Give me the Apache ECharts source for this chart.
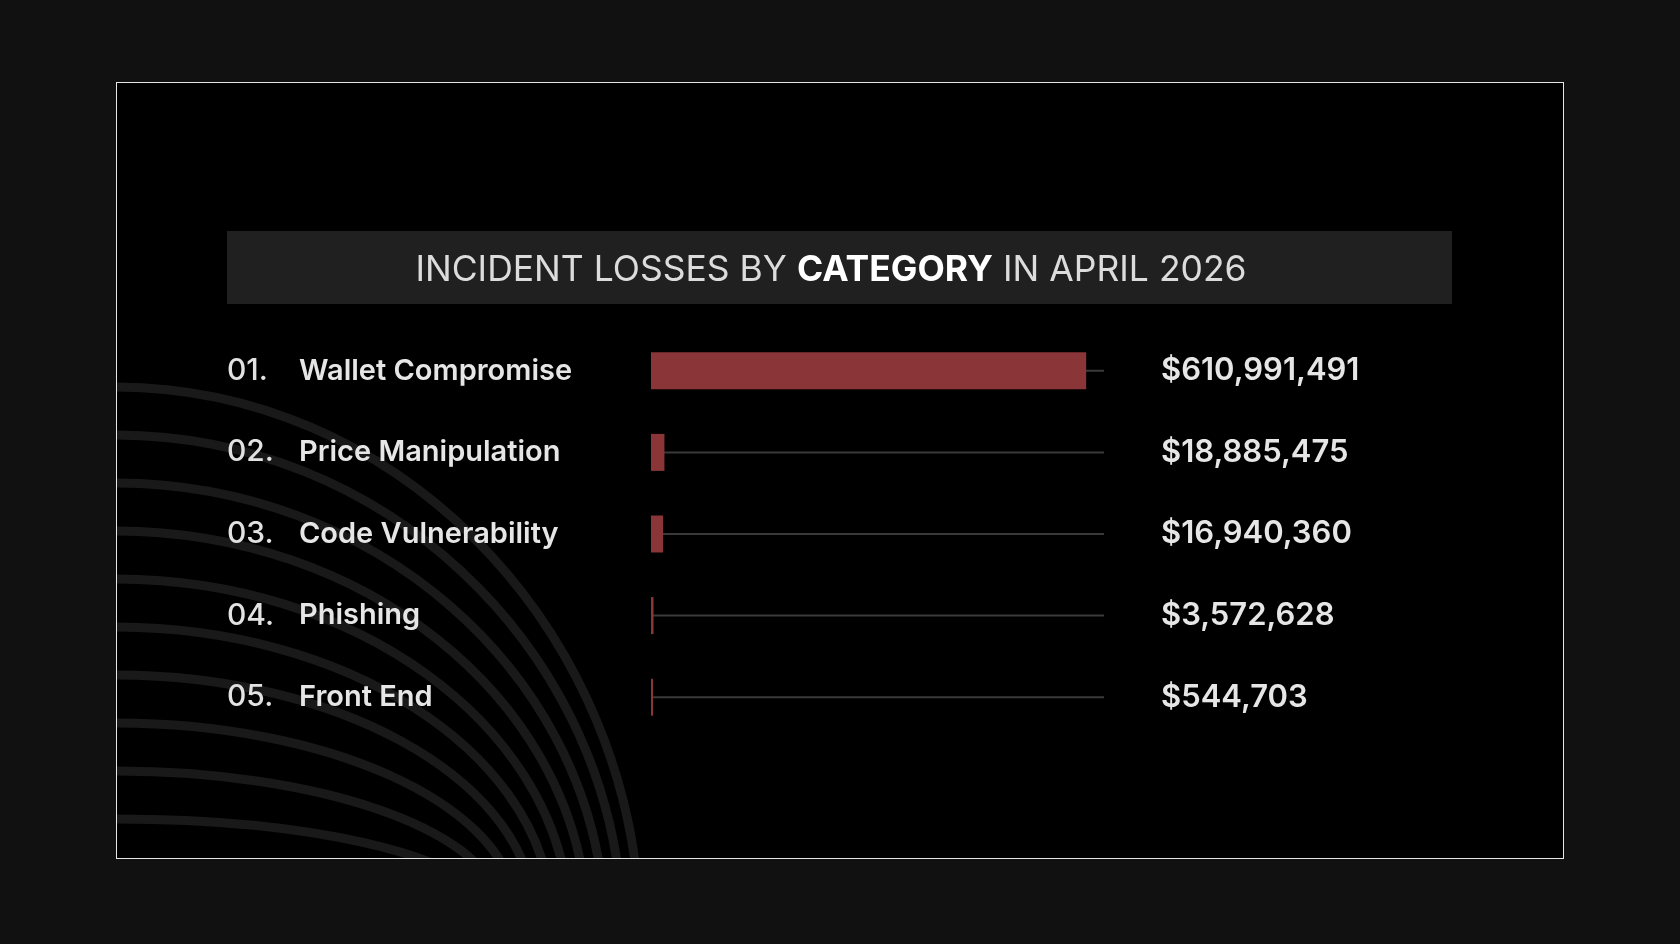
<!DOCTYPE html>
<html lang="en">
<head>
  <meta charset="utf-8">
  <style>
    html, body { margin: 0; height: 100%; background: #111111; overflow: hidden; }
    #panel {
      position: absolute;
      left: 116px; top: 82px;
      width: 1448px; height: 777px;
      box-sizing: border-box;
      border: 1px solid #e6e6e6;
      background: #000;
    }
  </style>
</head>
<body>
  <div id="panel"></div>
  <script src="https://cdn.jsdelivr.net/npm/echarts@6/dist/echarts.min.js"></script>
  <script>
    // data
    var CATEGORIES = ['Wallet Compromise', 'Price Manipulation', 'Code Vulnerability', 'Phishing', 'Front End'];
    var RANKS = ['01.', '02.', '03.', '04.', '05.'];
    var LOSSES = [610991491, 18885475, 16940360, 3572628, 544703];
    var AXIS_MAX = 636000000;

    var chart = echarts.init(document.getElementById('panel'));

    // decorative curves in the lower left corner
    var curves = [];
    for (var i = 0; i < 10; i++) {
      var y0 = 304 + 48 * i;
      var X = 502 - 17 * i;
      curves.push({
        type: 'bezierCurve',
        silent: true,
        z: 0,
        shape: {
          x1: -2, y1: y0,
          cpx1: 0.55 * X, cpy1: y0,
          cpx2: X, cpy2: y0 + 0.45 * (817 - y0),
          x2: X * 1.04, y2: 817
        },
        style: { stroke: '#191919', lineWidth: 9, fill: null }
      });
    }

    var option = {
      backgroundColor: '#000',
      animation: false,
      textStyle: { fontFamily: 'Inter, "Noto Sans", sans-serif' },
      graphic: curves.concat([
        {
          type: 'rect',
          silent: true,
          z: 1,
          shape: { x: 110, y: 148, width: 1225, height: 73 },
          style: { fill: '#202020' }
        },
        {
          type: 'text',
          silent: true,
          z: 2,
          x: 714, y: 187,
          style: {
            text: '{a|INCIDENT LOSSES BY }{b|CATEGORY}{a| IN APRIL 2026}',
            align: 'center',
            verticalAlign: 'middle',
            rich: {
              a: { fontFamily: 'Inter', fontSize: 35.5, fontWeight: 400, fill: '#dcdcdc' },
              b: { fontFamily: 'Inter', fontSize: 35.5, fontWeight: 700, fill: '#ffffff' }
            }
          }
        }
      ]),
      grid: { left: 534, right: 459, top: 247, bottom: 120 },
      xAxis: {
        type: 'value',
        min: 0,
        max: AXIS_MAX,
        show: false
      },
      yAxis: [
        {
          type: 'category',
          inverse: true,
          data: CATEGORIES,
          axisLine: { show: false },
          axisTick: { show: false },
          splitLine: { show: false },
          axisLabel: {
            align: 'left',
            margin: 424,
            formatter: function (v, i) {
              return '{num|' + RANKS[i] + '}{name|' + v + '}';
            },
            rich: {
              num: { fontFamily: 'Inter', fontSize: 30, fontWeight: 500, color: '#e2e2e2', width: 72 },
              name: { fontFamily: 'Inter', fontSize: 29, fontWeight: 600, color: '#e6e6e6' }
            }
          }
        },
        {
          type: 'category',
          inverse: true,
          data: CATEGORIES,
          show: false
        }
      ],
      series: [
        {
          name: 'track',
          type: 'bar',
          yAxisIndex: 1,
          silent: true,
          z: 2,
          barWidth: 2,
          itemStyle: { color: '#3a3a3a' },
          data: CATEGORIES.map(function () { return AXIS_MAX; }),
          label: {
            show: true,
            position: 'right',
            distance: 57,
            fontFamily: 'Inter',
            fontSize: 31,
            fontWeight: 600,
            color: '#e6e6e6',
            formatter: function (p) {
              return '$' + LOSSES[p.dataIndex].toLocaleString('en-US');
            }
          }
        },
        {
          name: 'Losses',
          type: 'bar',
          yAxisIndex: 0,
          z: 3,
          barWidth: 37,
          barMinHeight: 2,
          itemStyle: { color: '#8a3537' },
          data: LOSSES
        }
      ]
    };

    chart.setOption(option);
    window.addEventListener('resize', chart.resize);
  </script>
</body>
</html>
